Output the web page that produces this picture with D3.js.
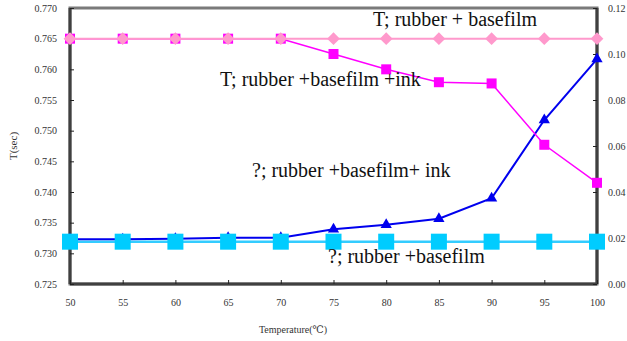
<!DOCTYPE html>
<html><head><meta charset="utf-8">
<script src="https://cdn.jsdelivr.net/npm/d3@7"></script>
<style>body{margin:0;background:#fff}svg{display:block}</style>
</head><body><svg id="c" width="627" height="341"></svg>
<script>
const temps = [50,55,60,65,70,75,80,85,90,95,100];
const tBase = [0.765,0.765,0.765,0.765,0.765,0.765,0.765,0.765,0.765,0.765,0.765];
const tInk = [0.765,0.765,0.765,0.765,0.765,0.7625,0.7600,0.7579,0.7577,0.7477,0.7415];
const qInk = [0.0195,0.0195,0.0197,0.0201,0.0201,0.0238,0.0258,0.0284,0.0373,0.0713,0.0978];
const qBase = [0.0184,0.0184,0.0184,0.0184,0.0184,0.0184,0.0184,0.0184,0.0184,0.0184,0.0184];
const leftTicks = [0.725,0.730,0.735,0.740,0.745,0.750,0.755,0.760,0.765,0.770];
const rightTicks = [0,0.02,0.04,0.06,0.08,0.10,0.12];
const labels = ["T; rubber + basefilm","T; rubber +basefilm +ink","?; rubber +basefilm+ ink","?; rubber +basefilm"];

const svg = d3.select("#c");
const L=70,R=597,T=8,B=284;
const x = d3.scaleLinear().domain([50,100]).range([L,R]);
const yl = d3.scaleLinear().domain([0.725,0.770]).range([B,T]);
const yr = d3.scaleLinear().domain([0,0.12]).range([B,T]);

svg.append("rect").attr("x",L).attr("y",T).attr("width",R-L).attr("height",B-T)
  .attr("fill","none").attr("stroke","#7a7a7a").attr("stroke-width",3);
svg.append("line").attr("x1",L).attr("x2",L).attr("y1",T).attr("y2",B).attr("stroke","#404040").attr("stroke-width",3);
svg.append("line").attr("x1",R).attr("x2",R).attr("y1",T).attr("y2",B).attr("stroke","#404040").attr("stroke-width",3);
svg.append("line").attr("x1",L).attr("x2",R).attr("y1",B).attr("y2",B).attr("stroke","#404040").attr("stroke-width",3);

const tf = "Liberation Serif, Times New Roman, DejaVu Serif, serif";
function styleAxis(g){
  g.select(".domain").remove();
  g.selectAll("line").attr("stroke","#222").attr("stroke-width",1);
  g.selectAll("text").style("font-family",tf).style("font-size","10px").attr("fill","#333");
}
svg.append("g").attr("transform",`translate(${L},0)`)
  .call(d3.axisRight(yl).tickValues(leftTicks).tickFormat(d3.format(".3f")).tickSize(4).tickPadding(0))
  .call(g=>{g.selectAll("text").attr("x",-13).attr("text-anchor","end");styleAxis(g);});
svg.append("g").attr("transform",`translate(${R},0)`)
  .call(d3.axisLeft(yr).tickValues(rightTicks).tickFormat(d3.format(".2f")).tickSize(4).tickPadding(0))
  .call(g=>{g.selectAll("text").attr("x",11).attr("text-anchor","start");styleAxis(g);});
svg.append("g").attr("transform",`translate(0,${B})`)
  .call(d3.axisTop(x).tickValues(temps).tickSize(4).tickFormat(d3.format("d")))
  .call(g=>{g.selectAll("text").attr("y",22).attr("dy","0");styleAxis(g);});

svg.append("text").attr("transform",`translate(17,146) rotate(-90)`).attr("text-anchor","middle")
  .style("font-family",tf).style("font-size","11px").attr("fill","#333").text("T(sec)");
svg.append("text").attr("x",293).attr("y",333).attr("text-anchor","middle")
  .style("font-family",tf).style("font-size","10px").attr("fill","#333").text("Temperature(℃)");

function series(vals, y, color, width){
  svg.append("path").datum(vals).attr("fill","none").attr("stroke",color).attr("stroke-width",width)
    .attr("d", d3.line().x((d,i)=>x(temps[i])).y(d=>y(d)));
}
series(qBase, yr, "#33ccff", 2.5);
series(qInk, yr, "#0000ee", 2);
series(tInk, yl, "#ff00ff", 1.5);
series(tBase, yl, "#ff99cc", 2);

svg.append("g").selectAll("rect").data(tInk).join("rect")
  .attr("x",(d,i)=>x(temps[i])-5).attr("y",d=>yl(d)-5).attr("width",10).attr("height",10).attr("fill","#ff00ff");
svg.append("g").selectAll("rect").data(tBase).join("rect")
  .attr("transform",(d,i)=>`translate(${x(temps[i])},${yl(d)}) rotate(45)`)
  .attr("x",-4.5).attr("y",-4.5).attr("width",9).attr("height",9).attr("fill","#ff99cc");
svg.append("g").selectAll("path").data(qInk).join("path")
  .attr("transform",(d,i)=>`translate(${x(temps[i])},${yr(d)})`)
  .attr("d",d3.symbol(d3.symbolTriangle,55)).attr("fill","#0000ee");
svg.append("g").selectAll("rect").data(qBase).join("rect")
  .attr("x",(d,i)=>x(temps[i])-8).attr("y",d=>yr(d)-8).attr("width",16).attr("height",16).attr("fill","#00ccff");

const lab = [[373,26],[220,86],[252,177],[328,263]];
svg.append("g").selectAll("text").data(labels).join("text")
  .attr("x",(d,i)=>lab[i][0]).attr("y",(d,i)=>lab[i][1])
  .style("font-family",tf).style("font-size","20px").attr("fill","#111").text(d=>d);
</script></body></html>
